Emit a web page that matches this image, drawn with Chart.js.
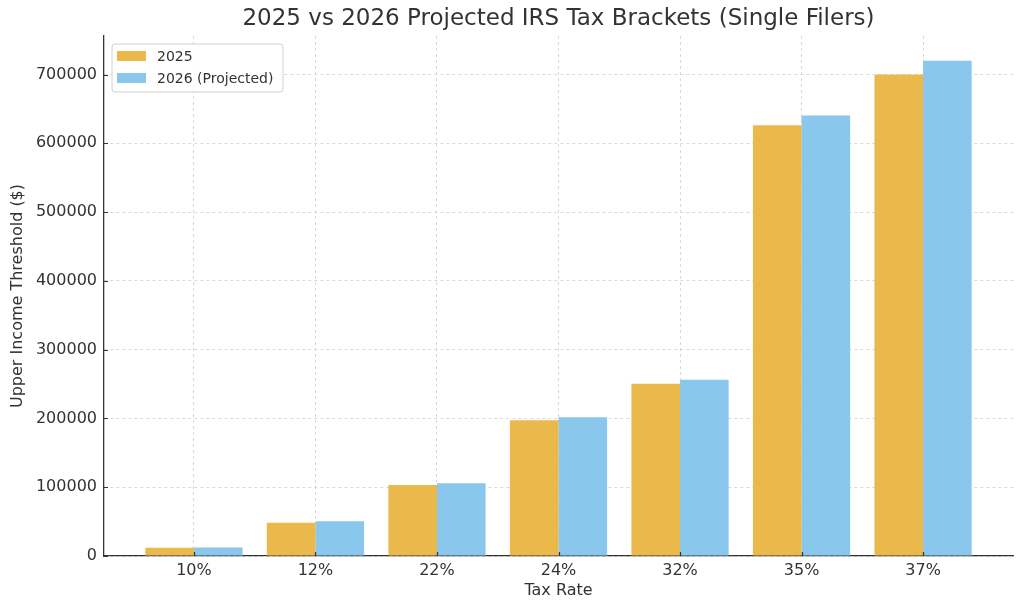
<!DOCTYPE html>
<html>
<head>
<meta charset="utf-8">
<script src="https://cdn.jsdelivr.net/npm/chart.js@4"></script>
<style>
  html, body { margin: 0; padding: 0; background: #fff; }
  #wrap { width: 1024px; height: 611px; }
</style>
</head>
<body>
<div id="wrap"><canvas id="c" width="1024" height="611"></canvas></div>
<script>
const categories = ['10%', '12%', '22%', '24%', '32%', '35%', '37%'];
const values2025 = [11925, 48475, 103350, 197300, 250525, 626350, 700000];
const values2026 = [12400, 50400, 105700, 201775, 256225, 640600, 720000];
const yTicks = [0, 100000, 200000, 300000, 400000, 500000, 600000, 700000];
const seriesLabels = ['2025', '2026 (Projected)'];
const titleText = '2025 vs 2026 Projected IRS Tax Brackets (Single Filers)';
const xTitle = 'Tax Rate';
const yTitle = 'Upper Income Threshold ($)';

const FONT = "'DejaVu Sans', sans-serif";
const TXT = '#333333';

const legendPlugin = {
  id: 'mplLegend',
  afterDraw(chart) {
    const ctx = chart.ctx;
    const x = 112, y = 44, w = 171, h = 48;
    ctx.save();
    ctx.beginPath();
    ctx.roundRect(x, y, w, h, 3);
    ctx.fillStyle = 'rgba(255,255,255,0.85)';
    ctx.fill();
    ctx.strokeStyle = '#d0d0d0';
    ctx.lineWidth = 1;
    ctx.stroke();
    ctx.font = '14px ' + FONT;
    ctx.textBaseline = 'middle';
    chart.data.datasets.forEach((ds, i) => {
      const yy = 56 + i * 22;
      ctx.fillStyle = ds.backgroundColor;
      ctx.fillRect(117, yy - 5, 29, 10);
      ctx.fillStyle = TXT;
      ctx.fillText(ds.label, 157, yy + 1);
    });
    ctx.restore();
  }
};

const titlePlugin = {
  id: 'mplTitle',
  afterDraw(chart) {
    const ctx = chart.ctx;
    const ca = chart.chartArea;
    ctx.save();
    ctx.font = '23px ' + FONT;
    ctx.fillStyle = TXT;
    ctx.textAlign = 'center';
    ctx.textBaseline = 'middle';
    ctx.fillText(titleText, (ca.left + ca.right) / 2, 19);
    ctx.restore();
  }
};

// matplotlib-style inward tick marks
const inTicksPlugin = {
  id: 'inTicks',
  afterDraw(chart) {
    const ctx = chart.ctx;
    const ca = chart.chartArea;
    const xs = chart.scales.x, ys = chart.scales.y;
    ctx.save();
    ctx.strokeStyle = '#333';
    ctx.lineWidth = 1.2;
    ctx.beginPath();
    xs.ticks.forEach(t => {
      const px = Math.round(xs.getPixelForValue(t.value)) + 0.5;
      ctx.moveTo(px, ca.bottom);
      ctx.lineTo(px, ca.bottom - 4);
    });
    ys.ticks.forEach(t => {
      const py = Math.round(ys.getPixelForValue(t.value)) + 0.5;
      ctx.moveTo(ca.left, py);
      ctx.lineTo(ca.left + 4, py);
    });
    ctx.stroke();
    ctx.restore();
  }
};

const gridOpts = {
  color: '#d0d0d0',
  lineWidth: 0.8,
  offset: false,
  drawTicks: false
};

new Chart(document.getElementById('c'), {
  type: 'bar',
  data: {
    datasets: [
      {
        label: seriesLabels[0],
        data: values2025.map((v, i) => ({ x: i, y: v })),
        backgroundColor: '#EBB84B',
        borderWidth: 0,
        categoryPercentage: 0.8,
        barPercentage: 1.0
      },
      {
        label: seriesLabels[1],
        data: values2026.map((v, i) => ({ x: i, y: v })),
        backgroundColor: '#89C7EC',
        borderWidth: 0,
        categoryPercentage: 0.8,
        barPercentage: 1.0
      }
    ]
  },
  options: {
    responsive: false,
    animation: false,
    devicePixelRatio: 1,
    layout: { padding: { top: 36, right: 11, left: 0, bottom: 0 } },
    plugins: {
      legend: { display: false },
      title: { display: false },
      tooltip: { enabled: false }
    },
    scales: {
      x: {
        type: 'linear',
        offset: false,
        min: -0.74,
        max: 6.74,
        afterBuildTicks(scale) {
          scale.ticks = categories.map((c, i) => ({ value: i }));
        },
        afterFit(scale) { scale.height = 55; },
        ticks: {
          autoSkip: false,
          maxRotation: 0,
          padding: 5,
          color: TXT,
          font: { family: FONT, size: 16 },
          callback: (v) => categories[v]
        },
        grid: gridOpts,
        border: { display: true, color: '#333', width: 1.3, dash: [3, 3] },
        title: {
          display: true,
          text: xTitle,
          color: TXT,
          font: { family: FONT, size: 16 },
          padding: { top: 11, bottom: 11 }
        }
      },
      y: {
        min: 0,
        max: 756000,
        afterBuildTicks(scale) {
          scale.ticks = yTicks.map(v => ({ value: v }));
        },
        afterFit(scale) { scale.width = 104; },
        ticks: {
          padding: 7,
          color: TXT,
          font: { family: FONT, size: 16 },
          callback: (v) => String(v)
        },
        grid: gridOpts,
        border: { display: true, color: '#333', width: 1.3, dash: [3, 3] },
        title: {
          display: true,
          text: yTitle,
          color: TXT,
          font: { family: FONT, size: 16 },
          padding: { top: 8, bottom: 8 }
        }
      }
    }
  },
  plugins: [legendPlugin, titlePlugin, inTicksPlugin]
});
</script>
</body>
</html>
